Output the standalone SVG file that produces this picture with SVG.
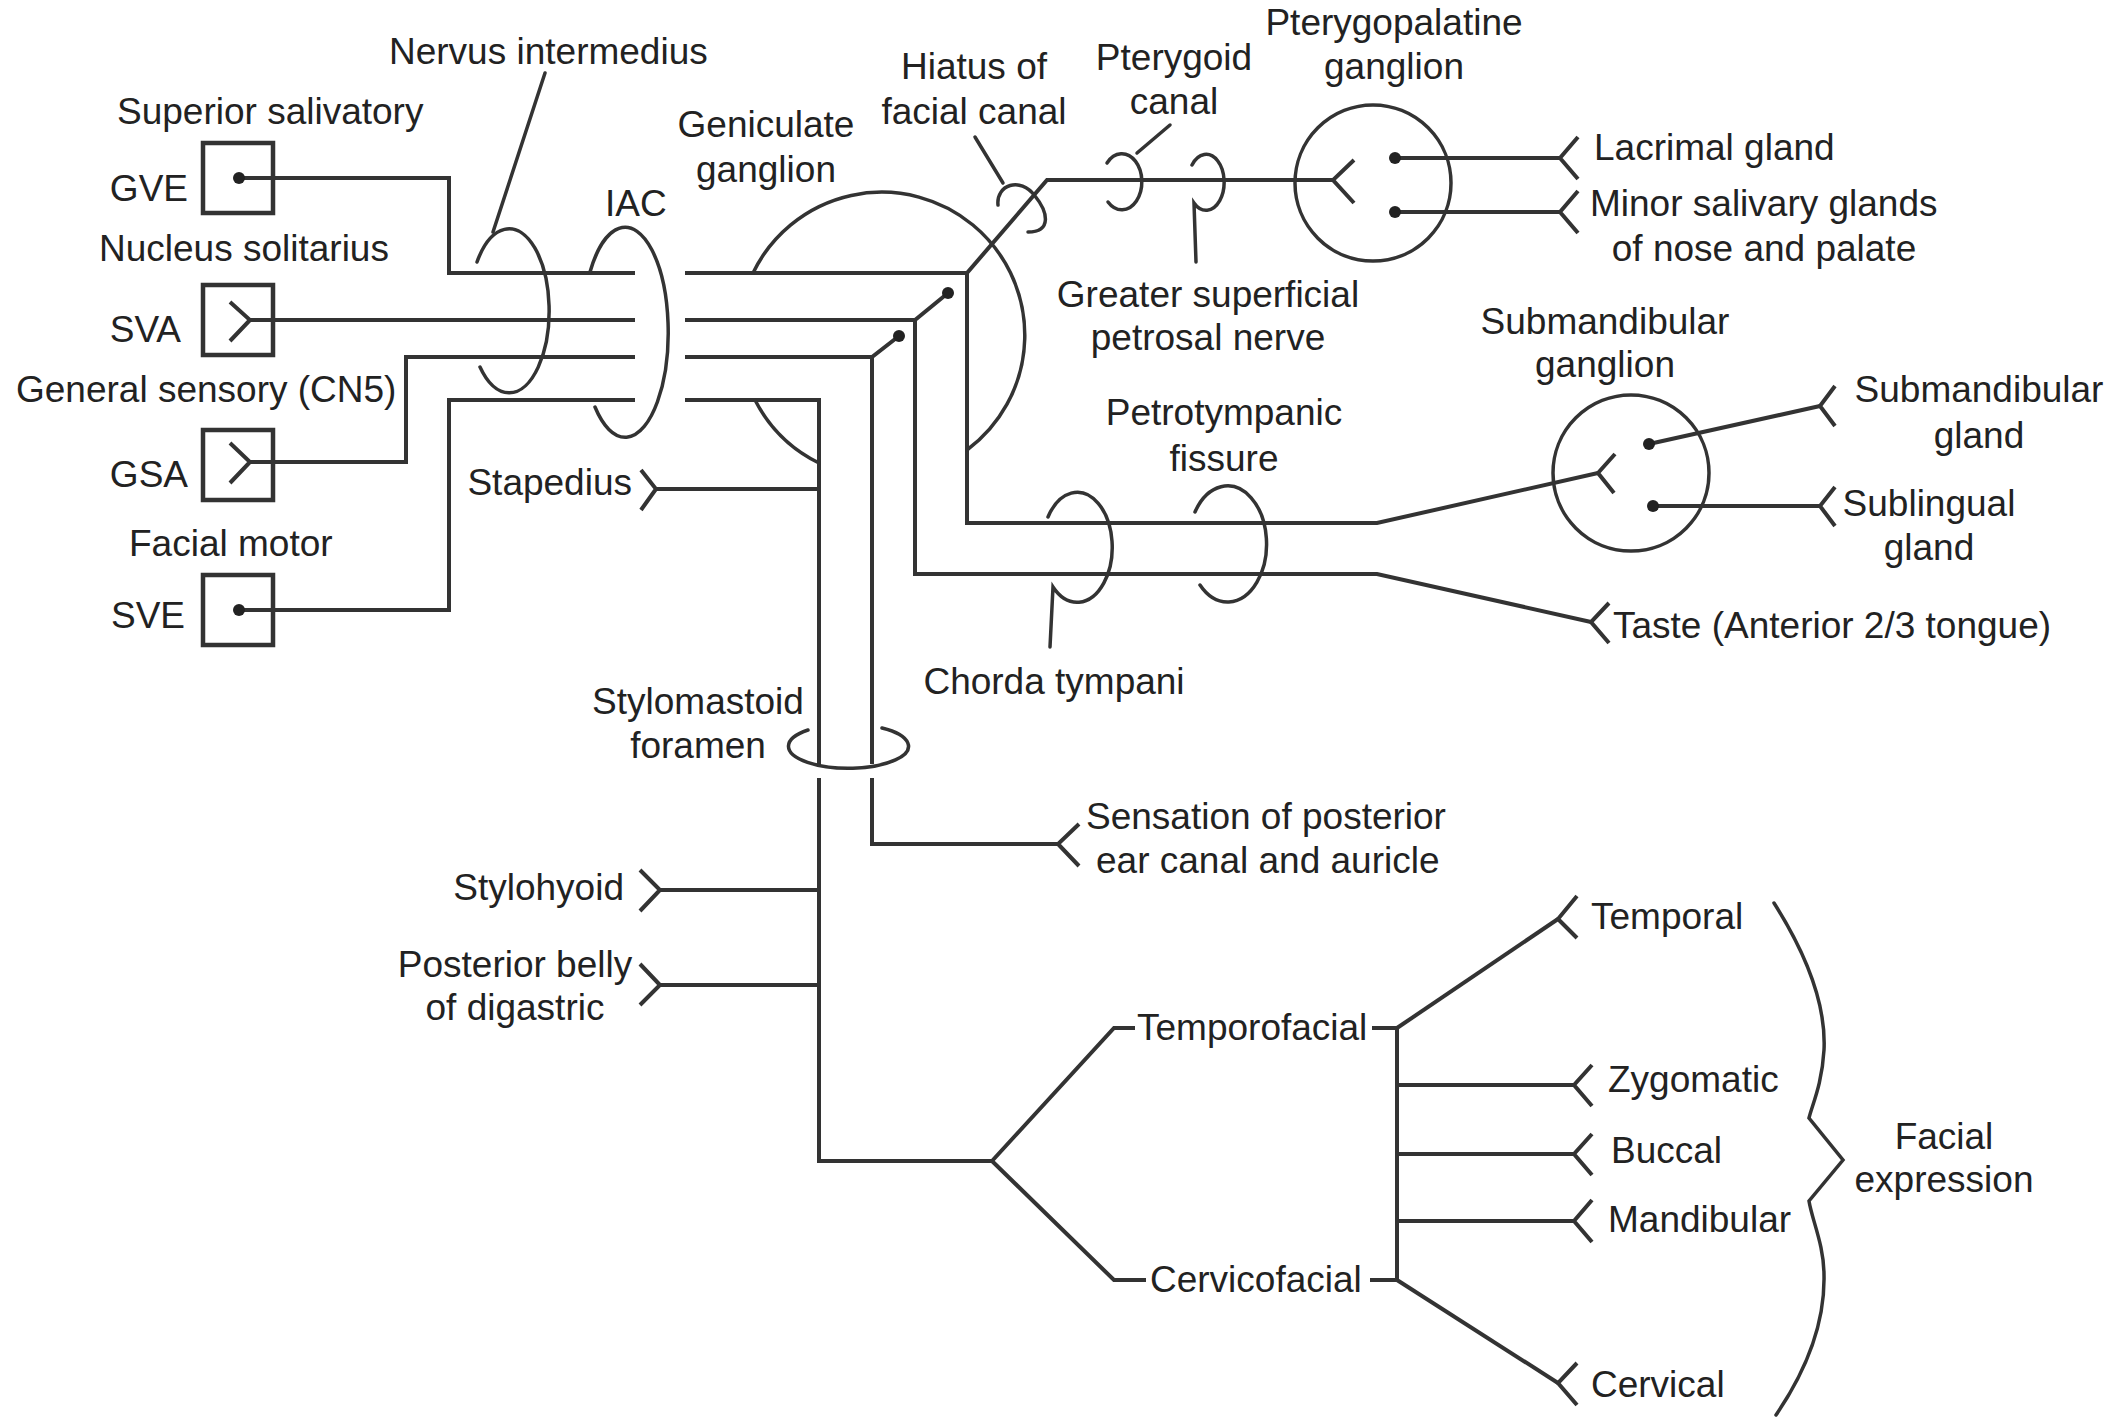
<svg xmlns="http://www.w3.org/2000/svg" width="2107" height="1418" viewBox="0 0 2107 1418">
<style>
.ln{fill:none;stroke:#333;stroke-width:4;stroke-linejoin:miter;stroke-linecap:butt}
.lp{fill:none;stroke:#333;stroke-width:3.5;stroke-linecap:round}
.bx{fill:none;stroke:#333;stroke-width:4.5}
.dot{fill:#222}
text{font-family:"Liberation Sans",Arial,Helvetica,sans-serif;font-size:37px;fill:#222}
.m{text-anchor:middle}
.e{text-anchor:end}
</style>
<rect width="2107" height="1418" fill="#fff"/>

<g id="connectors">
<path class="ln" d="M239,178 H449 V273 H635"/>
<path class="ln" d="M685,273 H967 L1047,180 H1333"/>
<path class="ln" d="M967,273 V523 H1377 L1598,473"/>
<path class="ln" d="M250,320 H635"/>
<path class="ln" d="M685,320 H915 L948,293"/>
<path class="ln" d="M915,320 V574 H1377 L1591,622"/>
<path class="ln" d="M250,462 H406 V357 H635"/>
<path class="ln" d="M685,357 H872 L899,336"/>
<path class="ln" d="M872,357 V764"/>
<path class="ln" d="M872,778 V844 H1058"/>
<path class="ln" d="M239,610 H449 V400 H635"/>
<path class="ln" d="M685,400 H819 V766"/>
<path class="ln" d="M819,778 V1161 H992"/>
<path class="ln" d="M819,489 H656"/>
<path class="ln" d="M819,890 H660"/>
<path class="ln" d="M819,985 H660"/>
<path class="ln" d="M992,1161 L1114,1028 H1135"/>
<path class="ln" d="M992,1161 L1114,1280 H1146"/>
<path class="ln" d="M1372,1028 H1397 M1397,1028 V1280 M1370,1280 H1397"/>
<path class="ln" d="M1397,1028 L1558,919"/>
<path class="ln" d="M1397,1280 L1558,1383"/>
<path class="ln" d="M1397,1085 H1574 M1397,1154 H1574 M1397,1221 H1574"/>
<path class="ln" d="M1395,158 H1560 M1395,212 H1560"/>
<path class="ln" d="M1649,444 L1820,406 M1653,506 H1820"/>
</g>

<g id="gve">
<rect class="bx" x="203" y="143" width="70" height="70"/>
<circle class="dot" cx="239" cy="178" r="6"/>
<text x="188" y="201" class="e">GVE</text>
<text x="117" y="124">Superior salivatory</text>
</g>
<g id="sva">
<rect class="bx" x="203" y="285" width="70" height="70"/>
<path class="ln" d="M230,302 L250,320 L230,341"/>
<text x="181" y="342" class="e">SVA</text>
<text x="99" y="261">Nucleus solitarius</text>
</g>
<g id="gsa">
<rect class="bx" x="203" y="430" width="70" height="70"/>
<path class="ln" d="M230,443 L250,462 L230,483"/>
<text x="188" y="487" class="e">GSA</text>
<text x="16" y="402">General sensory (CN5)</text>
</g>
<g id="sve">
<rect class="bx" x="203" y="575" width="70" height="70"/>
<circle class="dot" cx="239" cy="610" r="6"/>
<text x="185" y="628" class="e">SVE</text>
<text x="129" y="556">Facial motor</text>
</g>

<g id="nervus-intermedius">
<path class="lp" d="M477,262 A40,82 0 1 1 480,367"/>
<path class="lp" d="M545,73 L493,232"/>
<text x="389" y="64">Nervus intermedius</text>
</g>
<g id="iac">
<path class="lp" d="M590,272 A43,105 0 1 1 595,407"/>
<text x="605" y="216">IAC</text>
</g>
<g id="geniculate-ganglion">
<path class="lp" d="M753,273 A143,143 0 1 1 967,450"/>
<path class="lp" d="M755,400 A143,143 0 0 0 819,463"/>
<circle class="dot" cx="948" cy="293" r="6"/>
<circle class="dot" cx="899" cy="336" r="6"/>
<text x="766" y="137" class="m">Geniculate</text>
<text x="766" y="182" class="m">ganglion</text>
</g>
<g id="hiatus">
<path class="lp" d="M998,205 C996,185 1020,176 1035,196 C1048,212 1052,232 1028,232"/>
<path class="lp" d="M975,137 L1003,183"/>
<text x="974" y="79" class="m">Hiatus of</text>
<text x="974" y="124" class="m">facial canal</text>
</g>
<g id="pterygoid-canal">
<path class="lp" d="M1107,163 A20,28 0 1 1 1108,202"/>
<path class="lp" d="M1170,125 L1137,153"/>
<text x="1174" y="70" class="m">Pterygoid</text>
<text x="1174" y="114" class="m">canal</text>
</g>
<g id="gspn">
<path class="lp" d="M1192,165 A18,28 0 1 1 1194,203 L1196,262"/>
<text x="1208" y="307" class="m">Greater superficial</text>
<text x="1208" y="350" class="m">petrosal nerve</text>
</g>
<g id="pterygopalatine-ganglion">
<circle class="lp" cx="1373" cy="183" r="78"/>
<path class="ln" d="M1354,160 L1333,180 L1354,203"/>
<circle class="dot" cx="1395" cy="158" r="6"/>
<circle class="dot" cx="1395" cy="212" r="6"/>
<text x="1394" y="35" class="m">Pterygopalatine</text>
<text x="1394" y="79" class="m">ganglion</text>
</g>
<g id="lacrimal">
<path class="ln" d="M1578,137 L1560,158 L1578,179"/>
<text x="1594" y="160">Lacrimal gland</text>
</g>
<g id="minor-salivary">
<path class="ln" d="M1578,191 L1560,212 L1578,233"/>
<text x="1590" y="216">Minor salivary glands</text>
<text x="1764" y="261" class="m">of nose and palate</text>
</g>
<g id="petrotympanic">
<path class="lp" d="M1195,512 A39,58 0 1 1 1200,585"/>
<text x="1224" y="425" class="m">Petrotympanic</text>
<text x="1224" y="471" class="m">fissure</text>
</g>
<g id="chorda-tympani">
<path class="lp" d="M1048,517 A35,55 0 1 1 1053,587 L1050,647"/>
<text x="1054" y="694" class="m">Chorda tympani</text>
</g>
<g id="submandibular-ganglion">
<circle class="lp" cx="1631" cy="473" r="78"/>
<path class="ln" d="M1615,454 L1598,473 L1614,493"/>
<circle class="dot" cx="1649" cy="444" r="6"/>
<circle class="dot" cx="1653" cy="506" r="6"/>
<text x="1605" y="334" class="m">Submandibular</text>
<text x="1605" y="377" class="m">ganglion</text>
</g>
<g id="submandibular-gland">
<path class="ln" d="M1835,386 L1820,406 L1835,426"/>
<text x="1979" y="402" class="m">Submandibular</text>
<text x="1979" y="448" class="m">gland</text>
</g>
<g id="sublingual-gland">
<path class="ln" d="M1835,487 L1820,506 L1835,526"/>
<text x="1929" y="516" class="m">Sublingual</text>
<text x="1929" y="560" class="m">gland</text>
</g>
<g id="taste">
<path class="ln" d="M1609,603 L1591,622 L1609,643"/>
<text x="1613" y="638">Taste (Anterior 2/3 tongue)</text>
</g>
<g id="stapedius">
<path class="ln" d="M641,470 L656,489 L641,510"/>
<text x="632" y="495" class="e">Stapedius</text>
</g>
<g id="stylomastoid">
<path class="lp" d="M808,730 A60,22 0 1 0 882,728"/>
<text x="698" y="714" class="m">Stylomastoid</text>
<text x="698" y="758" class="m">foramen</text>
</g>
<g id="sensation">
<path class="ln" d="M1079,824 L1058,844 L1079,866"/>
<text x="1086" y="829">Sensation of posterior</text>
<text x="1096" y="873">ear canal and auricle</text>
</g>
<g id="stylohyoid">
<path class="ln" d="M640,870 L660,890 L640,911"/>
<text x="624" y="900" class="e">Stylohyoid</text>
</g>
<g id="digastric">
<path class="ln" d="M640,964 L660,985 L640,1005"/>
<text x="515" y="977" class="m">Posterior belly</text>
<text x="515" y="1020" class="m">of digastric</text>
</g>
<g id="temporofacial"><text x="1137" y="1040">Temporofacial</text></g>
<g id="cervicofacial"><text x="1150" y="1292">Cervicofacial</text></g>
<g id="temporal">
<path class="ln" d="M1577,896 L1558,919 L1577,938"/>
<text x="1591" y="929">Temporal</text>
</g>
<g id="zygomatic">
<path class="ln" d="M1592,1065 L1574,1085 L1592,1106"/>
<text x="1608" y="1092">Zygomatic</text>
</g>
<g id="buccal">
<path class="ln" d="M1592,1134 L1574,1154 L1592,1175"/>
<text x="1611" y="1163">Buccal</text>
</g>
<g id="mandibular">
<path class="ln" d="M1592,1200 L1574,1221 L1592,1242"/>
<text x="1608" y="1232">Mandibular</text>
</g>
<g id="cervical">
<path class="ln" d="M1577,1363 L1558,1383 L1577,1405"/>
<text x="1591" y="1397">Cervical</text>
</g>
<g id="facial-expression">
<path class="lp" d="M1774,903 C1810,960 1826,1010 1824,1050 C1822,1085 1812,1105 1809,1118 L1843,1160 L1809,1201 C1812,1220 1824,1245 1824,1275 C1825,1320 1810,1365 1776,1415"/>
<text x="1944" y="1149" class="m">Facial</text>
<text x="1944" y="1192" class="m">expression</text>
</g>
</svg>
